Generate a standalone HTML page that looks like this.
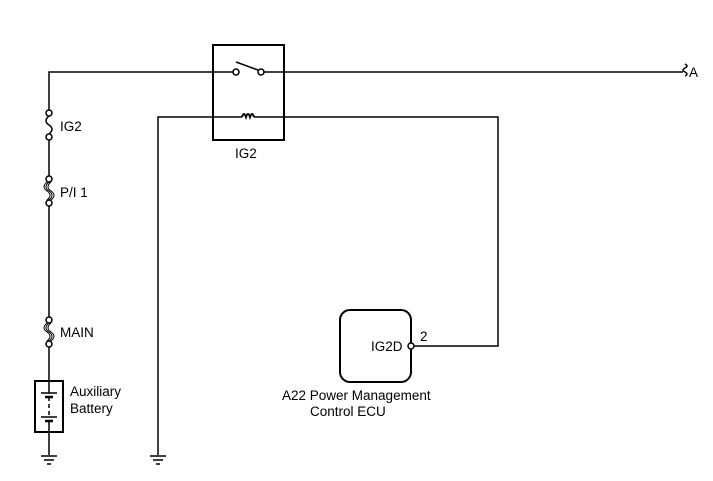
<!DOCTYPE html><html><head><style>body{margin:0;background:#fff}svg{display:block}text{font-family:"Liberation Sans",Arial,sans-serif;font-size:13.5px;fill:#000}</style></head><body>
<svg width="713" height="481" viewBox="0 0 713 481">
<g stroke="#000" stroke-width="1.5" fill="none">
<polyline points="49,113 49,72 233,72"/>
<line x1="264" y1="72" x2="683" y2="72"/>
<path d="M683,68 q4,2 0,4 q-4,2 0,4 q4,2 0,4" transform="translate(2,-4)"/>
<rect x="213" y="45" width="71" height="95" stroke-width="2"/>
<circle cx="236" cy="72" r="3" fill="#fff"/>
<circle cx="261" cy="72" r="3" fill="#fff"/>
<line x1="236" y1="62" x2="258" y2="70"/>
<polyline points="158,455 158,117 242,117"/>
<path d="M242,117 q2,-6 4,0 q2,-6 4,0 q2,-6 4,0" stroke-width="2"/>
<polyline points="254,117 498,117 498,346 414,346"/>
<rect x="340" y="310" width="71" height="72" rx="10" stroke-width="2"/>
<circle cx="411" cy="346" r="3" fill="#fff"/>
<circle cx="49" cy="113" r="3" fill="#fff"/>
<path d="M49,116 q-6,5 0,9 q6,4 0,9"/>
<circle cx="49" cy="137" r="3" fill="#fff"/>
<line x1="49" y1="140" x2="49" y2="176"/>
<circle cx="49" cy="179" r="3" fill="#fff"/>
<path d="M49,182 q-6,5 0,9 q6,4 0,9 M47,182 q-6,5 0,9 q6,4 0,9 M51,182 q-6,5 0,9 q6,4 0,9" stroke-width="1"/>
<circle cx="49" cy="203" r="3" fill="#fff"/>
<line x1="49" y1="206" x2="49" y2="317"/>
<circle cx="49" cy="320" r="3" fill="#fff"/>
<path d="M49,323 q-6,5 0,9 q6,4 0,9 M47,323 q-6,5 0,9 q6,4 0,9 M51,323 q-6,5 0,9 q6,4 0,9" stroke-width="1"/>
<circle cx="49" cy="344" r="3" fill="#fff"/>
<line x1="49" y1="347" x2="49" y2="381"/>
<rect x="35" y="381" width="28" height="51" stroke-width="2"/>
<line x1="49" y1="381" x2="49" y2="393"/>
<line x1="41" y1="393" x2="57" y2="393"/>
<line x1="45" y1="397" x2="53" y2="397" stroke-width="2.5"/>
<line x1="49" y1="397" x2="49" y2="415" stroke-dasharray="4,3"/>
<line x1="41" y1="417" x2="57" y2="417"/>
<line x1="45" y1="421" x2="53" y2="421" stroke-width="2.5"/>
<line x1="49" y1="421" x2="49" y2="455"/>
<line x1="41" y1="456" x2="57" y2="456"/><line x1="44" y1="460" x2="54" y2="460"/><line x1="47" y1="464" x2="51" y2="464"/>
<line x1="150" y1="456" x2="166" y2="456"/><line x1="153" y1="460" x2="163" y2="460"/><line x1="156" y1="464" x2="160" y2="464"/>
</g>
<text x="60" y="131">IG2</text>
<text x="60" y="197">P/I 1</text>
<text x="60" y="337">MAIN</text>
<text x="70" y="396">Auxiliary</text>
<text x="70" y="413">Battery</text>
<text x="235" y="158">IG2</text>
<text x="689" y="77">A</text>
<text x="371" y="351">IG2D</text>
<text x="420" y="341">2</text>
<text x="282" y="400">A22 Power Management</text>
<text x="310" y="416">Control ECU</text>
</svg></body></html>
